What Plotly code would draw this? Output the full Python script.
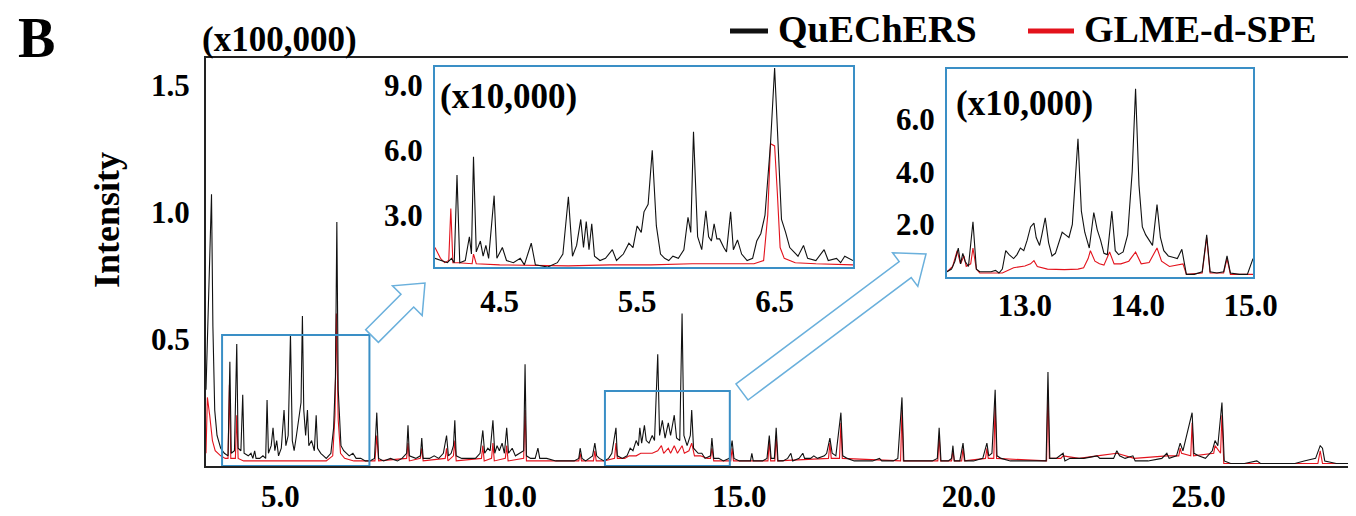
import math
import plotly.graph_objects as go

# ---------------- data (retention time in min, intensity) ----------------
# Main chromatogram, intensity in units of x100,000
quechers_main = [
    (3.38, 0.30), (3.45, 0.75), (3.50, 1.07), (3.53, 0.55), (3.57, 0.22), (3.62, 0.12), (3.70, 0.07), (3.78, 0.05),
    (3.86, 0.04), (3.90, 0.41), (3.93, 0.05), (4.00, 0.06), (4.05, 0.48), (4.08, 0.07), (4.14, 0.06), (4.18, 0.28),
    (4.21, 0.05), (4.30, 0.04), (4.36, 0.05), (4.40, 0.03), (4.44, 0.06), (4.47, 0.03), (4.55, 0.03), (4.62, 0.04),
    (4.68, 0.03), (4.71, 0.26), (4.74, 0.05), (4.80, 0.08), (4.84, 0.15), (4.88, 0.06), (4.92, 0.10), (4.96, 0.04),
    (5.02, 0.07), (5.08, 0.22), (5.12, 0.08), (5.17, 0.12), (5.22, 0.52), (5.26, 0.10), (5.30, 0.06), (5.35, 0.12),
    (5.40, 0.18), (5.45, 0.25), (5.48, 0.59), (5.51, 0.22), (5.55, 0.12), (5.59, 0.22), (5.62, 0.08), (5.68, 0.10),
    (5.74, 0.06), (5.78, 0.20), (5.81, 0.07), (5.88, 0.05), (5.94, 0.04), (6.00, 0.03), (6.10, 0.05), (6.16, 0.15),
    (6.20, 0.35), (6.23, 0.96), (6.26, 0.30), (6.32, 0.08), (6.38, 0.06), (6.43, 0.05), (6.50, 0.04), (6.58, 0.05),
    (6.65, 0.03), (6.75, 0.03), (6.85, 0.02), (6.95, 0.02), (7.05, 0.03), (7.10, 0.21), (7.14, 0.03), (7.25, 0.02),
    (7.40, 0.03), (7.55, 0.02), (7.65, 0.03), (7.75, 0.05), (7.78, 0.16), (7.81, 0.04), (7.95, 0.03), (8.05, 0.04),
    (8.08, 0.11), (8.11, 0.03), (8.25, 0.03), (8.35, 0.04), (8.45, 0.03), (8.55, 0.05), (8.62, 0.12), (8.66, 0.04),
    (8.72, 0.05), (8.77, 0.08), (8.80, 0.18), (8.83, 0.04), (8.95, 0.03), (9.10, 0.03), (9.25, 0.03), (9.35, 0.05),
    (9.41, 0.14), (9.45, 0.05), (9.52, 0.07), (9.57, 0.06), (9.63, 0.18), (9.67, 0.05), (9.72, 0.08), (9.77, 0.06),
    (9.83, 0.09), (9.88, 0.05), (9.93, 0.15), (9.97, 0.05), (10.05, 0.07), (10.12, 0.04), (10.20, 0.05), (10.30, 0.06),
    (10.33, 0.40), (10.36, 0.04), (10.45, 0.03), (10.55, 0.03), (10.61, 0.07), (10.65, 0.03), (10.80, 0.03), (11.00, 0.02),
    (11.20, 0.02), (11.40, 0.02), (11.50, 0.03), (11.53, 0.07), (11.57, 0.03), (11.65, 0.02), (11.80, 0.04), (11.85, 0.09),
    (11.89, 0.04), (11.95, 0.03), (12.05, 0.02), (12.15, 0.03), (12.22, 0.05), (12.31, 0.15), (12.34, 0.04), (12.45, 0.03),
    (12.55, 0.04), (12.62, 0.07), (12.68, 0.06), (12.75, 0.10), (12.80, 0.08), (12.83, 0.15), (12.87, 0.09), (12.93, 0.16),
    (12.97, 0.10), (13.03, 0.09), (13.10, 0.12), (13.15, 0.10), (13.22, 0.44), (13.26, 0.12), (13.32, 0.18), (13.38, 0.11),
    (13.45, 0.17), (13.50, 0.12), (13.58, 0.20), (13.63, 0.11), (13.70, 0.10), (13.75, 0.60), (13.79, 0.12), (13.86, 0.08),
    (13.93, 0.12), (13.96, 0.22), (14.00, 0.07), (14.10, 0.05), (14.18, 0.05), (14.25, 0.03), (14.37, 0.04), (14.40, 0.11),
    (14.44, 0.03), (14.55, 0.03), (14.65, 0.02), (14.78, 0.03), (14.84, 0.10), (14.88, 0.03), (15.00, 0.02), (15.15, 0.02),
    (15.24, 0.02), (15.27, 0.05), (15.30, 0.02), (15.50, 0.02), (15.60, 0.03), (15.65, 0.12), (15.69, 0.03), (15.76, 0.03),
    (15.80, 0.15), (15.84, 0.02), (15.95, 0.02), (16.05, 0.03), (16.12, 0.05), (16.16, 0.02), (16.30, 0.03), (16.38, 0.05),
    (16.42, 0.03), (16.55, 0.03), (16.62, 0.04), (16.70, 0.03), (16.85, 0.04), (16.90, 0.05), (16.97, 0.11), (17.02, 0.05),
    (17.10, 0.04), (17.21, 0.21), (17.25, 0.04), (17.35, 0.03), (17.50, 0.02), (17.70, 0.02), (17.90, 0.02), (18.05, 0.03),
    (18.10, 0.02), (18.35, 0.02), (18.45, 0.03), (18.54, 0.27), (18.58, 0.02), (18.80, 0.02), (19.00, 0.02), (19.20, 0.02),
    (19.31, 0.03), (19.35, 0.15), (19.39, 0.02), (19.55, 0.02), (19.62, 0.03), (19.65, 0.08), (19.68, 0.02), (19.80, 0.02),
    (19.87, 0.09), (19.91, 0.02), (20.10, 0.02), (20.30, 0.03), (20.39, 0.09), (20.43, 0.04), (20.50, 0.05), (20.57, 0.30),
    (20.61, 0.04), (20.70, 0.03), (20.90, 0.02), (21.20, 0.02), (21.50, 0.02), (21.68, 0.02), (21.72, 0.37), (21.76, 0.03),
    (21.90, 0.03), (22.05, 0.05), (22.09, 0.02), (22.20, 0.03), (22.50, 0.03), (22.79, 0.04), (22.85, 0.03), (23.15, 0.03),
    (23.22, 0.06), (23.28, 0.04), (23.40, 0.03), (23.57, 0.04), (23.62, 0.02), (23.90, 0.02), (24.20, 0.03), (24.31, 0.05),
    (24.36, 0.03), (24.52, 0.04), (24.60, 0.09), (24.66, 0.06), (24.86, 0.21), (24.90, 0.05), (25.00, 0.04), (25.15, 0.03),
    (25.30, 0.06), (25.36, 0.10), (25.42, 0.08), (25.51, 0.25), (25.56, 0.02), (25.70, 0.01), (26.00, 0.01), (26.27, 0.02),
    (26.35, 0.01), (26.80, 0.01), (27.10, 0.01), (27.30, 0.02), (27.55, 0.03), (27.65, 0.08), (27.70, 0.07), (27.75, 0.02),
    (28.00, 0.01), (28.50, 0.01),
]

glme_main = [
    (3.38, 0.05), (3.41, 0.27), (3.46, 0.20), (3.52, 0.10), (3.58, 0.06), (3.70, 0.04), (3.80, 0.03), (3.86, 0.03),
    (3.89, 0.32), (3.92, 0.03), (4.02, 0.03), (4.05, 0.20), (4.08, 0.03), (4.20, 0.02), (4.50, 0.02), (4.80, 0.02),
    (5.10, 0.02), (5.40, 0.02), (5.70, 0.02), (6.00, 0.02), (6.14, 0.04), (6.19, 0.20), (6.22, 0.60), (6.26, 0.18),
    (6.31, 0.05), (6.40, 0.03), (6.60, 0.02), (7.06, 0.02), (7.10, 0.12), (7.14, 0.02), (7.75, 0.03), (7.78, 0.09),
    (7.81, 0.02), (8.05, 0.03), (8.08, 0.07), (8.11, 0.02), (8.59, 0.03), (8.62, 0.07), (8.65, 0.02), (8.77, 0.04),
    (8.80, 0.10), (8.83, 0.02), (9.38, 0.03), (9.41, 0.08), (9.44, 0.02), (9.60, 0.03), (9.63, 0.09), (9.66, 0.02),
    (9.90, 0.03), (9.93, 0.08), (9.96, 0.02), (10.30, 0.03), (10.33, 0.22), (10.36, 0.02), (10.60, 0.02), (11.00, 0.02),
    (11.50, 0.02), (11.53, 0.05), (11.56, 0.02), (11.82, 0.02), (11.85, 0.06), (11.88, 0.02), (12.05, 0.02), (12.28, 0.03),
    (12.31, 0.09), (12.34, 0.03), (12.50, 0.03), (12.60, 0.04), (12.75, 0.04), (12.85, 0.05), (12.95, 0.05), (13.10, 0.05),
    (13.22, 0.06), (13.30, 0.08), (13.35, 0.05), (13.45, 0.07), (13.50, 0.05), (13.58, 0.08), (13.65, 0.05), (13.75, 0.08),
    (13.80, 0.05), (13.90, 0.06), (13.96, 0.09), (14.02, 0.04), (14.15, 0.04), (14.30, 0.03), (14.37, 0.03), (14.40, 0.07),
    (14.44, 0.02), (14.81, 0.02), (14.84, 0.07), (14.87, 0.02), (15.62, 0.02), (15.65, 0.10), (15.68, 0.02), (15.77, 0.02),
    (15.80, 0.12), (15.83, 0.02), (16.94, 0.03), (16.97, 0.09), (17.00, 0.03), (17.18, 0.03), (17.21, 0.17), (17.24, 0.03),
    (18.51, 0.02), (18.54, 0.22), (18.57, 0.02), (19.32, 0.02), (19.35, 0.12), (19.38, 0.02), (19.62, 0.02), (19.65, 0.06),
    (19.68, 0.02), (19.84, 0.02), (19.87, 0.07), (19.90, 0.02), (20.36, 0.03), (20.39, 0.07), (20.42, 0.03), (20.54, 0.03),
    (20.57, 0.25), (20.60, 0.03), (21.69, 0.02), (21.72, 0.30), (21.75, 0.03), (22.00, 0.03), (22.05, 0.04), (22.40, 0.03),
    (22.79, 0.04), (23.22, 0.05), (23.60, 0.03), (24.31, 0.04), (24.57, 0.04), (24.60, 0.07), (24.63, 0.05), (24.83, 0.04),
    (24.86, 0.17), (24.89, 0.04), (25.33, 0.05), (25.36, 0.08), (25.48, 0.05), (25.51, 0.20), (25.55, 0.01), (27.60, 0.01),
    (27.65, 0.06), (27.70, 0.01), (28.50, 0.01),
]

# Inset 1 (4.0-7.1 min), intensity in units of x10,000
inset1_quechers = [
    (4.03, 1.0), (4.08, 0.9), (4.12, 0.8), (4.15, 1.0), (4.17, 0.8), (4.19, 4.85), (4.21, 0.8), (4.25, 0.9),
    (4.28, 2.0), (4.295, 1.2), (4.31, 5.7), (4.33, 1.3), (4.36, 1.8), (4.38, 1.1), (4.40, 1.6), (4.42, 1.0),
    (4.46, 3.9), (4.48, 1.0), (4.52, 1.5), (4.55, 0.9), (4.60, 0.8), (4.65, 1.0), (4.68, 0.7), (4.73, 1.7),
    (4.76, 0.7), (4.85, 0.6), (4.92, 0.8), (4.96, 1.2), (5.00, 3.85), (5.03, 1.1), (5.06, 1.6), (5.09, 2.8),
    (5.11, 1.5), (5.13, 2.7), (5.15, 1.4), (5.17, 2.6), (5.19, 1.1), (5.23, 0.9), (5.27, 1.0), (5.32, 1.4),
    (5.35, 0.9), (5.40, 1.2), (5.44, 1.7), (5.47, 1.5), (5.50, 2.5), (5.53, 2.2), (5.55, 3.15), (5.58, 3.5),
    (5.61, 6.0), (5.64, 2.5), (5.67, 1.2), (5.70, 1.0), (5.73, 0.9), (5.76, 1.1), (5.80, 1.0), (5.84, 1.4),
    (5.87, 2.9), (5.89, 2.2), (5.91, 6.85), (5.94, 2.0), (5.97, 1.4), (6.00, 3.2), (6.02, 2.0), (6.04, 1.8),
    (6.06, 2.6), (6.08, 1.9), (6.10, 1.9), (6.13, 1.5), (6.15, 1.3), (6.18, 3.15), (6.20, 1.4), (6.23, 1.85),
    (6.26, 1.2), (6.30, 0.9), (6.34, 1.0), (6.37, 1.8), (6.40, 2.15), (6.43, 3.0), (6.47, 6.3), (6.50, 9.8),
    (6.53, 6.0), (6.55, 2.8), (6.58, 2.2), (6.61, 1.5), (6.64, 1.3), (6.67, 1.1), (6.71, 1.6), (6.74, 1.0),
    (6.80, 0.9), (6.86, 1.4), (6.89, 0.9), (6.95, 1.0), (6.98, 0.8), (7.01, 1.1), (7.07, 0.9),
]

inset1_glme = [
    (4.03, 1.5), (4.07, 1.0), (4.10, 0.8), (4.13, 0.9), (4.145, 3.3), (4.16, 0.8), (4.20, 0.8), (4.30, 0.75),
    (4.31, 1.2), (4.33, 0.75), (4.50, 0.7), (4.80, 0.65), (5.00, 0.65), (5.30, 0.7), (5.60, 0.7), (5.90, 0.75),
    (6.20, 0.75), (6.35, 0.75), (6.42, 0.9), (6.45, 3.0), (6.47, 6.3), (6.50, 6.2), (6.52, 4.0), (6.54, 1.5),
    (6.57, 1.0), (6.65, 0.8), (6.80, 0.75), (7.07, 0.7),
]

# Inset 2 (12.3-15.0 min), intensity in units of x10,000
inset2_quechers = [
    (12.31, 0.2), (12.35, 0.3), (12.38, 0.6), (12.41, 1.1), (12.43, 0.5), (12.45, 0.9), (12.47, 0.6), (12.50, 0.4),
    (12.54, 2.1), (12.57, 0.3), (12.60, 0.2), (12.70, 0.2), (12.74, 0.25), (12.77, 0.15), (12.80, 0.3), (12.83, 1.0),
    (12.86, 0.85), (12.90, 0.7), (12.93, 0.85), (12.96, 1.1), (12.99, 1.0), (13.02, 1.4), (13.05, 1.9), (13.08, 2.05),
    (13.10, 1.5), (13.13, 1.2), (13.15, 1.6), (13.18, 2.25), (13.21, 1.3), (13.24, 0.8), (13.27, 0.9), (13.30, 1.3),
    (13.33, 1.7), (13.36, 1.6), (13.39, 1.5), (13.42, 2.0), (13.47, 5.25), (13.50, 2.5), (13.53, 1.7), (13.57, 1.1),
    (13.61, 2.45), (13.64, 1.8), (13.67, 1.4), (13.70, 0.9), (13.73, 0.85), (13.77, 2.5), (13.80, 1.0), (13.83, 0.85),
    (13.87, 0.95), (13.91, 1.6), (13.95, 4.0), (13.98, 7.15), (14.01, 3.5), (14.04, 1.9), (14.07, 1.6), (14.10, 1.4),
    (14.13, 1.2), (14.17, 2.75), (14.20, 1.5), (14.23, 1.0), (14.27, 0.8), (14.31, 0.75), (14.35, 0.7), (14.39, 1.05),
    (14.41, 0.6), (14.43, 0.1), (14.50, 0.1), (14.57, 0.2), (14.61, 1.6), (14.64, 0.2), (14.70, 0.15), (14.76, 0.2),
    (14.79, 0.8), (14.82, 0.15), (14.90, 0.1), (14.97, 0.1), (15.02, 0.7),
]

inset2_glme = [
    (12.31, 0.2), (12.36, 0.4), (12.40, 1.0), (12.43, 0.5), (12.46, 0.8), (12.48, 0.4), (12.52, 0.5), (12.54, 1.1),
    (12.57, 0.3), (12.60, 0.15), (12.80, 0.15), (12.90, 0.35), (13.00, 0.42), (13.05, 0.5), (13.08, 0.62), (13.11, 0.4),
    (13.20, 0.3), (13.35, 0.28), (13.47, 0.3), (13.52, 0.35), (13.56, 0.7), (13.58, 1.0), (13.62, 0.6), (13.66, 0.5),
    (13.70, 0.45), (13.75, 0.95), (13.79, 0.5), (13.85, 0.5), (13.92, 0.6), (13.98, 0.95), (14.03, 0.5), (14.10, 0.55),
    (14.17, 1.1), (14.21, 0.6), (14.28, 0.4), (14.36, 0.45), (14.40, 0.5), (14.43, 0.1), (14.57, 0.15), (14.61, 1.5),
    (14.64, 0.15), (14.76, 0.15), (14.79, 0.7), (14.82, 0.1), (15.02, 0.1),
]

series_names = ["QuEChERS", "GLME-d-SPE"]
series_colors = ["#111111", "#e3121c"]

main_xticks = [5.0, 10.0, 15.0, 20.0, 25.0]
main_yticks = [0.5, 1.0, 1.5]
inset1_xticks = [4.5, 5.5, 6.5]
inset1_yticks = [3.0, 6.0, 9.0]
inset2_xticks = [13.0, 14.0, 15.0]
inset2_yticks = [2.0, 4.0, 6.0]

main_range_x = [3.38, 28.43]
main_range_y = [0.0, 1.606]
inset1_range_x = [4.03, 7.07]
inset1_range_y = [0.6, 9.85]
inset2_range_x = [12.31, 15.02]
inset2_range_y = [0.0, 7.9]
zoom_regions = [(3.73, 6.94, 0.516), (12.07, 14.79, 0.295)]

# ---------------- layout helpers ----------------
# The page body adds an 8 px offset; design positions are in page pixels.
OFF = 8
PAGE_W, PAGE_H = 1356, 516
W, H = PAGE_W - OFF, PAGE_H - OFF
PLOT_L, PLOT_T, PLOT_B, PLOT_R = 206, 58, 466, 1356   # page pixels of main plot area
ML, MT = PLOT_L - OFF, PLOT_T - OFF
MB = H - (PLOT_B - OFF)
MR = W - (PLOT_R - OFF)
PW, PH = W - ML - MR, H - MT - MB
FONT = "Liberation Serif, Times New Roman, serif"
BLUE = "#3a8fc6"


def paper(xp, yp):
    """page pixel -> paper coordinates"""
    return ((xp - PLOT_L) / PW, (PLOT_B - yp) / PH)


def unzip(pts):
    return [p[0] for p in pts], [p[1] for p in pts]


def arrow_path(x0, y0, x1, y1, shaft, head_w, head_len):
    dx, dy = x1 - x0, y1 - y0
    n = math.hypot(dx, dy)
    ux, uy = dx / n, dy / n
    nx, ny = -uy, ux
    bx, by = x1 - ux * head_len, y1 - uy * head_len
    pts = [
        (x0 + nx * shaft / 2, y0 + ny * shaft / 2),
        (bx + nx * shaft / 2, by + ny * shaft / 2),
        (bx + nx * head_w / 2, by + ny * head_w / 2),
        (x1, y1),
        (bx - nx * head_w / 2, by - ny * head_w / 2),
        (bx - nx * shaft / 2, by - ny * shaft / 2),
        (x0 - nx * shaft / 2, y0 - ny * shaft / 2),
    ]
    pp = [paper(a, b) for a, b in pts]
    return "M " + " L ".join(f"{a:.5f},{b:.5f}" for a, b in pp) + " Z"


def fmt(v):
    return f"{v:.1f}"


fig = go.Figure()

panels = [
    ("x", "y", quechers_main, glme_main),
    ("x2", "y2", inset1_quechers, inset1_glme),
    ("x3", "y3", inset2_quechers, inset2_glme),
]
for xa, ya, q, g in panels:
    # GLME-d-SPE drawn first, QuEChERS on top
    for pts, name, col in ((g, series_names[1], series_colors[1]), (q, series_names[0], series_colors[0])):
        xs, ys = unzip(pts)
        fig.add_trace(go.Scatter(x=xs, y=ys, mode="lines", name=name, xaxis=xa, yaxis=ya,
                                 line=dict(color=col, width=1.1),
                                 showlegend=False, hoverinfo="skip"))

tickfont = dict(family=FONT, size=31, color="black", weight="bold")

in1_x = paper(435, 267)[0], paper(853, 67)[0]
in1_y = paper(435, 267)[1], paper(853, 67)[1]
in2_x = paper(947, 277)[0], paper(1253, 69)[0]
in2_y = paper(947, 277)[1], paper(1253, 69)[1]

common = dict(showgrid=False, zeroline=False, ticks="", tickfont=tickfont, automargin=False, showline=True)

fig.update_layout(
    width=W, height=H,
    margin=dict(l=ML, r=MR, t=MT, b=MB, autoexpand=False),
    paper_bgcolor="white", plot_bgcolor="white",
    showlegend=False,
    xaxis=dict(domain=[0, 1], range=main_range_x, tickvals=main_xticks, ticktext=[fmt(v) for v in main_xticks],
               linecolor="#222", linewidth=2, mirror=True, ticklabelstandoff=2, **common),
    yaxis=dict(domain=[0, 1], range=main_range_y, tickvals=main_yticks, ticktext=[fmt(v) for v in main_yticks],
               linecolor="#222", linewidth=2, ticklabelstandoff=8, **common),
    xaxis2=dict(domain=list(in1_x), anchor="y2", range=inset1_range_x, tickvals=inset1_xticks,
                ticktext=[fmt(v) for v in inset1_xticks], mirror=True, linecolor=BLUE, linewidth=2,
                ticklabelstandoff=6, **common),
    yaxis2=dict(domain=list(in1_y), anchor="x2", range=inset1_range_y, tickvals=inset1_yticks,
                ticktext=[fmt(v) for v in inset1_yticks], mirror=True, linecolor=BLUE, linewidth=2,
                ticklabelstandoff=4, **common),
    xaxis3=dict(domain=list(in2_x), anchor="y3", range=inset2_range_x, tickvals=inset2_xticks,
                ticktext=[fmt(v) for v in inset2_xticks], mirror=True, linecolor=BLUE, linewidth=2,
                ticklabelstandoff=0, **common),
    yaxis3=dict(domain=list(in2_y), anchor="x3", range=inset2_range_y, tickvals=inset2_yticks,
                ticktext=[fmt(v) for v in inset2_yticks], mirror=True, linecolor=BLUE, linewidth=2,
                ticklabelstandoff=4, **common),
)

shapes = []
for x0, x1, ytop in zoom_regions:
    shapes.append(dict(type="rect", xref="x", yref="y", x0=x0, x1=x1, y0=0, y1=ytop,
                       line=dict(color=BLUE, width=2), fillcolor="rgba(0,0,0,0)"))
shapes.append(dict(type="path", xref="paper", yref="paper", path=arrow_path(372, 336, 425, 283, 18, 42, 25),
                   line=dict(color="#6ab0dc", width=1.5), fillcolor="white"))
shapes.append(dict(type="path", xref="paper", yref="paper", path=arrow_path(742, 392, 926, 254, 20, 42, 26),
                   line=dict(color="#6ab0dc", width=1.5), fillcolor="white"))
# legend line samples
lx0, ly0 = paper(730, 31)
lx1, _ = paper(768, 31)
shapes.append(dict(type="line", xref="paper", yref="paper", x0=lx0, x1=lx1, y0=ly0, y1=ly0,
                   line=dict(color=series_colors[0], width=5)))
rx0, ry0 = paper(1028, 31)
rx1, _ = paper(1074, 31)
shapes.append(dict(type="line", xref="paper", yref="paper", x0=rx0, x1=rx1, y0=ry0, y1=ry0,
                   line=dict(color=series_colors[1], width=5)))
fig.update_layout(shapes=shapes)

anns = []


def add_text(text, xp, yp, xanchor="left", size=32, angle=0):
    ax, ay = paper(xp, yp)
    anns.append(dict(text=text, x=ax, y=ay, xref="paper", yref="paper", xanchor=xanchor, yanchor="middle",
                     showarrow=False, textangle=angle,
                     font=dict(family=FONT, size=size, color="black", weight="bold")))


add_text("B", 16, 38, size=56)
add_text("(x100,000)", 200, 40, size=35)
add_text("(x10,000)", 438, 96, size=35)
add_text("(x10,000)", 954, 103, size=35)
add_text("Intensity", 107, 220, xanchor="center", size=36, angle=-90)
add_text(series_names[0], 776, 29, size=38)
add_text(series_names[1], 1082, 29, size=38)
fig.update_layout(annotations=anns)

fig.write_html("out.html")
